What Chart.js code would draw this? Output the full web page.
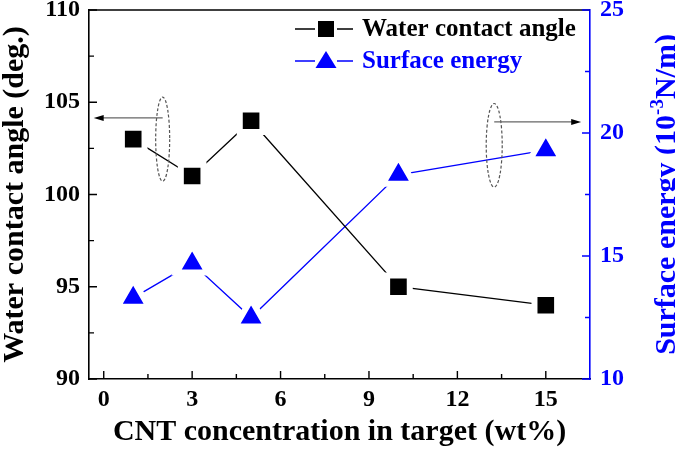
<!DOCTYPE html>
<html>
<head>
<meta charset="utf-8">
<script src="https://cdn.jsdelivr.net/npm/chart.js@4.4.0/dist/chart.umd.min.js"></script>
<style>
  html, body { margin: 0; padding: 0; background: #fff; }
  canvas { display: block; }
</style>
</head>
<body>
<canvas id="chart" width="675" height="451"></canvas>
<script>
// values
var concentration = [1, 3, 5, 10, 15];
var contactAngle = [103, 101, 104, 95, 94];
var surfaceEnergy = [13.3, 14.7, 12.5, 18.3, 19.3];
var xTicks = [0, 3, 6, 9, 12, 15];
var xMinor = [1.5, 4.5, 7.5, 10.5, 13.5];
var angleTicks = [90, 95, 100, 105, 110];
var angleMinor = [92.5, 97.5, 102.5, 107.5];
var energyTicks = [10, 15, 20, 25];
var energyMinor = [12.5, 17.5, 22.5];

var SERIF = '"Liberation Serif", "Times New Roman", serif';
var BLUE = '#0000ff';

function toPoints(xs, ys) {
  return xs.map(function (x, i) { return { x: x, y: ys[i] }; });
}

function fixedTicks(list) {
  return function (scale) {
    scale.ticks = list.map(function (v) { return { value: v }; });
  };
}

// frame, inward ticks, ellipses + arrows, legend, right title
var decor = {
  id: 'decor',
  afterDraw: function (chart) {
    var ctx = chart.ctx, a = chart.chartArea;
    var sx = chart.scales.x, sl = chart.scales.y, sr = chart.scales.y1;
    ctx.save();

    // top frame
    ctx.strokeStyle = '#000';
    ctx.lineWidth = 1.6;
    ctx.beginPath();
    ctx.moveTo(a.left, a.top);
    ctx.lineTo(a.right, a.top);
    ctx.stroke();

    // inward ticks
    ctx.lineWidth = 1.4;
    ctx.beginPath();
    xTicks.forEach(function (v) { var p = sx.getPixelForValue(v); ctx.moveTo(p, a.bottom); ctx.lineTo(p, a.bottom - 8); });
    xMinor.forEach(function (v) { var p = sx.getPixelForValue(v); ctx.moveTo(p, a.bottom); ctx.lineTo(p, a.bottom - 5); });
    angleTicks.forEach(function (v) { var p = sl.getPixelForValue(v); ctx.moveTo(a.left, p); ctx.lineTo(a.left + 8, p); });
    angleMinor.forEach(function (v) { var p = sl.getPixelForValue(v); ctx.moveTo(a.left, p); ctx.lineTo(a.left + 5, p); });
    ctx.stroke();
    ctx.strokeStyle = BLUE;
    ctx.beginPath();
    energyTicks.forEach(function (v) { var p = sr.getPixelForValue(v); ctx.moveTo(a.right, p); ctx.lineTo(a.right - 8, p); });
    energyMinor.forEach(function (v) { var p = sr.getPixelForValue(v); ctx.moveTo(a.right, p); ctx.lineTo(a.right - 5, p); });
    ctx.stroke();

    // dashed ellipses
    ctx.strokeStyle = '#555';
    ctx.lineWidth = 1.2;
    ctx.setLineDash([3, 2]);
    function ellipse(cx, cy, rx, ry) {
      ctx.beginPath();
      ctx.ellipse(cx, cy, rx, ry, 0, 0, Math.PI * 2);
      ctx.stroke();
    }
    var lx = sx.getPixelForValue(2.0), ly = sl.getPixelForValue(103.0);
    ellipse(lx, ly, 7, Math.abs(sl.getPixelForValue(103.0 + 2.28) - ly));
    var rx = sx.getPixelForValue(13.25), ry = sr.getPixelForValue(19.5);
    ellipse(rx, ry, 8, Math.abs(sr.getPixelForValue(19.5 + 1.7) - ry));
    ctx.setLineDash([]);

    // arrows
    function arrow(x0, x1, y) {
      var dir = x1 > x0 ? 1 : -1;
      ctx.strokeStyle = '#666';
      ctx.lineWidth = 1.3;
      ctx.beginPath();
      ctx.moveTo(x0, y);
      ctx.lineTo(x1 - dir * 8, y);
      ctx.stroke();
      ctx.fillStyle = '#000';
      ctx.beginPath();
      ctx.moveTo(x1, y);
      ctx.lineTo(x1 - dir * 10, y - 3);
      ctx.lineTo(x1 - dir * 10, y + 3);
      ctx.closePath();
      ctx.fill();
    }
    arrow(sx.getPixelForValue(2.0), sx.getPixelForValue(-0.34), sl.getPixelForValue(104.15));
    arrow(sx.getPixelForValue(13.25), sx.getPixelForValue(16.2), sr.getPixelForValue(20.45));

    // legend
    var ds = chart.data.datasets;
    ctx.font = 'bold 25px ' + SERIF;
    ctx.textBaseline = 'middle';
    ctx.textAlign = 'left';
    var rows = [{ y: 29, d: ds[0], shape: 'rect' }, { y: 61, d: ds[1], shape: 'tri' }];
    rows.forEach(function (r) {
      var c = r.d.borderColor;
      ctx.strokeStyle = c;
      ctx.lineWidth = 1.3;
      ctx.beginPath();
      ctx.moveTo(295, r.y); ctx.lineTo(315, r.y);
      ctx.moveTo(337, r.y); ctx.lineTo(353, r.y);
      ctx.stroke();
      ctx.fillStyle = c;
      ctx.beginPath();
      if (r.shape === 'rect') {
        ctx.rect(318, r.y - 8, 16, 16);
      } else {
        ctx.moveTo(326, r.y - 10);
        ctx.lineTo(336.5, r.y + 7);
        ctx.lineTo(315.5, r.y + 7);
        ctx.closePath();
      }
      ctx.fill();
      ctx.fillText(r.d.label, 362, r.y + 1);
    });

    // right axis title with superscript
    ctx.save();
    ctx.translate(a.right + 75, (a.top + a.bottom) / 2);
    ctx.rotate(-Math.PI / 2);
    ctx.fillStyle = BLUE;
    ctx.textBaseline = 'alphabetic';
    var big = 'bold 30px ' + SERIF, small = 'bold 19px ' + SERIF;
    var parts = [['Surface energy (10', big, 0], ['-3', small, -12], ['N/m)', big, 0]];
    var total = 0;
    parts.forEach(function (p) { ctx.font = p[1]; total += ctx.measureText(p[0]).width; });
    var x = -total / 2;
    parts.forEach(function (p) {
      ctx.font = p[1];
      ctx.fillText(p[0], x, 10 + p[2]);
      x += ctx.measureText(p[0]).width;
    });
    ctx.restore();

    ctx.restore();
  }
};

var tickFont = { family: SERIF, size: 24, weight: 'bold', lineHeight: 1 };
var titleFont = { family: SERIF, size: 30, weight: 'bold', lineHeight: 1 };

new Chart(document.getElementById('chart').getContext('2d'), {
  type: 'line',
  data: {
    datasets: [{
      label: 'Water contact angle',
      data: toPoints(concentration, contactAngle),
      yAxisID: 'y',
      borderColor: '#000',
      backgroundColor: '#000',
      borderWidth: 1.3,
      pointStyle: 'rect',
      pointRadius: 16,
      pointBorderColor: '#fff',
      pointBorderWidth: 6,
      pointBackgroundColor: '#000',
      tension: 0
    }, {
      label: 'Surface energy',
      data: toPoints(concentration, surfaceEnergy),
      yAxisID: 'y1',
      borderColor: BLUE,
      backgroundColor: BLUE,
      borderWidth: 1.3,
      pointStyle: 'triangle',
      pointRadius: 18,
      pointBorderColor: '#fff',
      pointBorderWidth: 6,
      pointBackgroundColor: BLUE,
      tension: 0
    }]
  },
  options: {
    responsive: false,
    animation: false,
    layout: { autoPadding: false, padding: { top: 10, left: 0, right: 0, bottom: 0 } },
    plugins: { legend: { display: false }, tooltip: { enabled: false } },
    scales: {
      x: {
        type: 'linear',
        min: -0.5,
        max: 16.5,
        afterBuildTicks: fixedTicks(xTicks),
        afterFit: function (s) { s.height = 72; s.paddingLeft = 0; s.paddingRight = 0; },
        grid: { display: false, drawTicks: false },
        border: { display: true, color: '#000', width: 1.6 },
        ticks: { color: '#000', font: tickFont, padding: 9, maxRotation: 0 },
        title: { display: true, text: 'CNT concentration in target (wt%)', color: '#000', font: titleFont, padding: { top: 0, bottom: 4 } }
      },
      y: {
        position: 'left',
        min: 90,
        max: 110,
        afterBuildTicks: fixedTicks(angleTicks),
        afterFit: function (s) { s.width = 89; s.paddingTop = 0; s.paddingBottom = 0; },
        grid: { display: false, drawTicks: false },
        border: { display: true, color: '#000', width: 1.6 },
        ticks: { color: '#000', font: tickFont, padding: 9 },
        title: { display: true, text: 'Water contact angle (deg.)', color: '#000', font: titleFont, padding: 0 }
      },
      y1: {
        position: 'right',
        min: 10,
        max: 25,
        afterBuildTicks: fixedTicks(energyTicks),
        afterFit: function (s) { s.width = 85; s.paddingTop = 0; s.paddingBottom = 0; },
        grid: { display: false, drawTicks: false },
        border: { display: true, color: BLUE, width: 1.6 },
        ticks: { color: BLUE, font: tickFont, padding: 10 }
      }
    }
  },
  plugins: [decor]
});
</script>
</body>
</html>
